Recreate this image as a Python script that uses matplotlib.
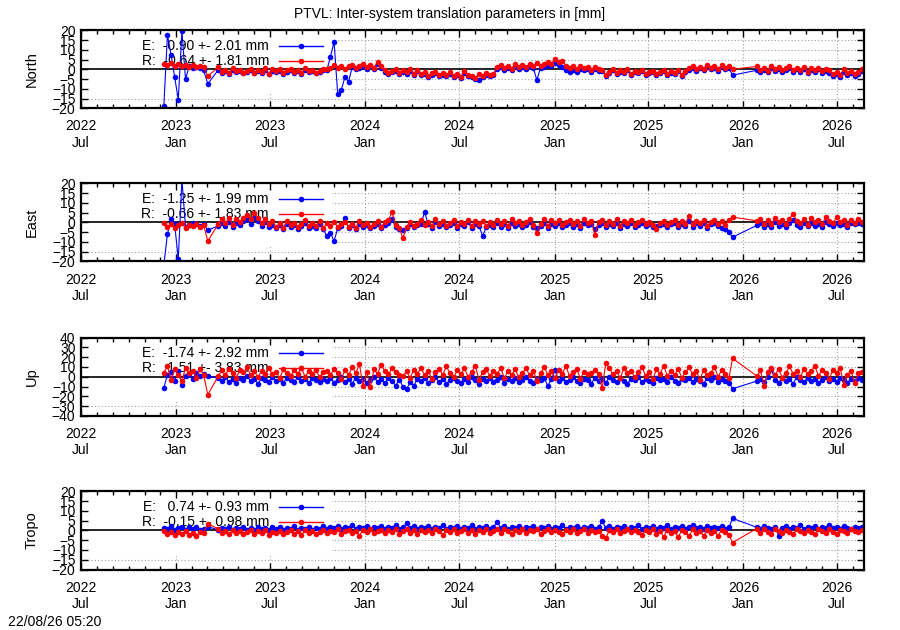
#!/usr/bin/env python3

import matplotlib

matplotlib.use("Agg")
import matplotlib.dates as mdates
import matplotlib.pyplot as plt
import numpy as np
import pandas as pd
from matplotlib.patches import Rectangle

plt.rcParams["font.family"] = ["Liberation Sans", "DejaVu Sans"]

TITLE = "PTVL: Inter-system translation parameters in [mm]"
STAMP = "22/08/26 05:20"

COMPONENTS = ["North", "East", "Up", "Tropo"]
Y_LIMITS = [20, 20, 40, 20]
Y_STEPS = [5, 5, 10, 5]
MEAN_E = [-0.90, -1.25, -1.74, 0.74]
STD_E = [2.01, 1.99, 2.92, 0.93]
MEAN_R = [-0.64, -0.66, 1.51, -0.15]
STD_R = [1.81, 1.83, 3.83, 0.98]

X_START = "2022-07-01"
X_END = "2026-08-22"
TICK_DATES = ["2022-07-01", "2023-01-01", "2023-07-01", "2024-01-01", "2024-07-01",
              "2025-01-01", "2025-07-01", "2026-01-01", "2026-07-01"]
TICK_LABELS = ["2022\nJul", "2023\nJan", "2023\nJul", "2024\nJan", "2024\nJul",
               "2025\nJan", "2025\nJul", "2026\nJan", "2026\nJul"]

# weekly samples, four stretches of data separated by gaps
SEGMENT_STARTS = ["2022-12-08", "2023-03-03", "2023-03-23", "2026-01-27"]

NORTH_E = [
    [-19.0, 17.5, 7.5, -4.0, -15.5, 19.5, -5.0, 1.5, 0.5, 1.0, 0.5, -0.5],
    [-7.5],
    [-0.4, -1.8, -1.0, -2.3, -0.5, -1.6, -0.9, -2.1, -1.3, -0.4,
     -2.0, -1.1, -1.7, -0.6, -2.4, -0.8, -1.5, -0.7, -2.2, -1.2,
     -0.5, -1.9, -1.0, -2.3, -0.3, -1.4, -0.8, -2.0, -1.2, -0.4,
     -0.6, 6.5, 14.0, -12.5, -10.5, -4.0, -6.5, 1.2, 0.1, 0.9,
     1.8, 0.4, 1.5, 0.0, 2.6, 0.9, -1.2, -2.6, -1.6, -0.8,
     -2.5, -1.3, -2.2, -0.7, -2.9, -1.0, -3.1, -2.2, -3.8, -2.7,
     -2.0, -3.6, -2.8, -3.5, -2.3, -3.8, -2.9, -4.2, -1.9, -3.3,
     -4.0, -4.8, -5.5, -4.1, -2.7, -3.6, -3.0, 0.3, 1.2, -0.2,
     0.9, -0.5, 1.5, 0.2, 1.3, 0.0, 1.7, 0.6, -5.5, 0.9,
     1.4, 2.3, 1.6, 3.0, 2.0, 1.2, -0.5, -1.4, -0.3, -1.6,
     0.3, -0.6, 0.1, -1.2, 0.0, -0.7, -1.1, -3.3, -1.9, -0.6,
     -2.5, -1.3, -2.1, -0.5, -2.7, -1.4, -2.0, -0.9, -3.0, -1.9,
     -1.3, -2.9, -2.0, -1.0, -2.8, -1.7, -2.5, -0.9, -3.2, -1.4,
     -0.2, 0.9, -0.9, 0.5, -0.5, 1.2, 0.1, 0.7, -0.8, 1.4,
     0.0, 0.6, -3.0],
    [-0.5, -1.2, -0.2, -1.6, 0.6, -0.9, 0.1, -1.4, -0.4, 0.5,
     -1.3, -0.1, -1.4, 0.2, -2.0, -0.6, -1.2, -0.1, -1.9, -0.8,
     -1.7, -3.2, -2.3, -3.9, -1.2, -2.8, -2.0, -3.5, -2.4, -0.8],
]
NORTH_R = [
    [2.8, 2.2, 3.0, 1.8, 2.6, 1.5, 2.4, 1.2, 2.0, 1.4, 1.8, 1.0],
    [-3.5],
    [1.0, -1.5, -0.5, -2.0, 0.6, -1.0, -0.2, -1.8, -0.7, 0.3,
     -1.7, -0.4, -1.3, 0.5, -2.2, -0.1, -1.1, 0.0, -1.9, -0.6,
     0.1, -1.5, -0.5, -2.0, 0.6, -1.0, -0.2, -1.8, -0.7, 0.3,
     0.2, 0.9, 2.0, 0.5, 1.8, 0.4, 1.6, 2.4, 0.8, 1.5,
     2.9, 1.3, 2.3, 0.8, 3.8, 1.8, -0.4, -2.0, -0.9, 0.1,
     -1.9, -0.6, -1.5, 0.3, -2.4, -0.3, -2.5, -1.4, -3.3, -2.0,
     -1.4, -3.1, -2.1, -3.0, -1.6, -3.2, -2.2, -3.7, -1.1, -2.7,
     -3.4, -4.2, -2.6, -3.6, -2.0, -3.1, -2.3, 1.3, 2.3, 0.8,
     1.9, 0.4, 2.6, 1.1, 2.4, 1.0, 2.8, 1.6, 3.1, 1.9,
     2.5, 3.7, 2.8, 5.5, 3.6, 4.2, 1.8, 0.5, 1.5, 0.0,
     1.9, 0.8, 1.3, -0.2, 1.1, 0.4, -0.3, -3.0, -1.2, 0.1,
     -1.9, -0.6, -1.5, 0.3, -2.2, -0.7, -1.4, -0.2, -2.6, -1.3,
     -0.7, -2.5, -1.4, -0.4, -2.4, -1.1, -2.0, -0.2, -2.9, -0.8,
     0.7, 1.8, -0.1, 1.4, 0.3, 2.1, 0.9, 1.6, -0.1, 2.3,
     0.8, 1.5, 0.0],
    [1.5, -0.2, 0.8, -0.7, 1.9, 0.3, 1.1, -0.5, 0.6, 1.6,
     -0.4, 0.9, -0.5, 1.3, -1.2, 0.7, -0.3, 0.8, -1.1, 0.2,
     -0.6, -2.2, -1.2, -2.7, -0.1, -1.7, -0.9, -2.5, -1.4, 0.0],
]

EAST_E = [
    [-22.0, -6.0, 1.5, -1.0, -19.0, 22.0, -2.5, -1.5, -0.5, -1.0, -2.0, -0.8],
    [-4.0],
    [-1.8, -0.5, -2.0, 0.3, -2.4, -0.2, -1.3, 0.8, 1.5, -0.7,
     2.0, 0.5, -1.9, 0.1, -2.3, -1.2, -3.0, -1.5, -3.4, -0.8,
     -2.6, -1.3, -3.2, -1.9, -0.4, -2.9, -1.6, -2.7, -0.9, -3.5,
     -7.0, -5.5, -9.5, -3.1, -1.9, 2.3, -2.9, -1.5, -3.4, -0.8,
     -2.3, -1.4, -3.1, -1.8, -0.6, -2.9, -1.2, -0.4, 1.5, -2.5,
     -3.2, -4.0, -3.0, -1.0, -2.6, -1.4, -0.6, 5.2, -1.0, -2.8,
     0.2, -1.9, -0.8, -2.5, -1.3, -0.2, -2.7, -0.9, -2.0, 0.1,
     -2.9, -0.8, -1.8, -7.0, -2.6, -1.1, -2.2, -0.5, -2.3, -1.0,
     -2.7, -0.2, -1.7, -0.6, -2.5, -1.2, 0.0, -2.4, -3.0, -1.9,
     -0.3, -2.8, -0.7, -1.8, -0.4, -2.6, -1.1, -0.2, -2.2, -1.0,
     -2.9, -0.4, -1.5, -0.8, -3.5, -1.3, -0.2, -2.4, -1.0, -1.9,
     -0.3, -2.8, -0.6, -1.6, -0.5, -2.5, -1.1, -0.1, -2.1, -0.9,
     -2.6, -2.0, -1.4, -0.6, -2.4, -1.0, -0.2, -2.3, -0.8, -1.8,
     0.8, -2.2, -0.5, -1.6, -0.1, -2.7, -1.0, -0.3, -2.0, -3.0,
     -3.5, -5.0, -7.6],
    [-1.5, -0.4, -2.2, -0.8, -2.5, 0.3, -1.6, -0.6, -2.3, -0.1,
     1.0, -1.2, -2.4, -0.5, -2.1, -0.3, -1.8, -0.7, -2.6, 0.2,
     -1.0, -2.0, -0.2, -1.5, -0.6, -2.2, -0.4, -1.0, -0.3, -0.8],
]
EAST_R = [
    [-0.5, -2.5, -1.0, -3.0, -1.5, -0.5, -2.8, -1.2, -2.0, -0.8, -2.5, -1.5],
    [-9.5],
    [-1.0, 1.5, -0.5, 2.0, -1.2, 1.8, 0.2, 2.5, 4.0, 1.5,
     4.8, 2.2, -0.3, 1.9, -1.0, 0.5, -2.2, -0.4, -2.8, 0.8,
     -1.5, -0.2, -2.6, -0.8, 1.2, -2.0, -0.5, -1.8, 0.9, -3.0,
     -0.3, -1.6, 0.4, -2.4, -0.9, 0.2, -2.2, -0.6, -2.9, 0.6,
     -1.4, -0.4, -2.5, -1.0, 0.5, -2.3, 0.0, 1.0, 5.5, -1.5,
     -3.0, -8.0, -2.5, 0.3, -1.8, -0.6, 1.0, -1.5, 0.2, -2.0,
     1.5, -0.8, 0.5, -1.6, -0.1, 1.2, -1.8, 0.3, -1.0, 1.4,
     -2.1, 0.6, -0.7, 0.9, -1.7, 0.1, -1.2, 1.2, -1.0, 0.5,
     -1.6, 1.6, -0.4, 0.8, -1.4, 0.2, 1.5, -1.2, -5.5, -0.8,
     1.7, -1.9, 1.0, -0.5, 1.1, -1.5, 0.4, 1.3, -1.0, 0.5,
     -1.8, 1.7, -0.2, 0.6, -6.5, 0.1, 1.4, -1.2, 0.5, -0.7,
     1.6, -1.7, 0.9, -0.4, 1.0, -1.4, 0.3, 1.2, -0.9, 0.4,
     -1.5, -3.2, -0.3, 0.7, -1.3, 0.2, 1.3, -1.1, 0.5, -0.6,
     3.5, -1.0, 0.8, -0.4, 1.2, -1.6, 0.2, 1.4, -0.8, 0.5,
     -1.2, 1.0, 2.7],
    [0.8, 1.8, -0.6, 1.2, -1.0, 2.2, 0.3, 1.0, -0.7, 1.9,
     4.5, 0.9, -0.4, 1.5, -1.1, 2.0, 0.1, 1.3, -0.9, 2.6,
     0.6, -0.5, 2.8, 0.2, 1.4, -1.2, 1.1, -0.3, 1.8, 0.4],
]

UP_E = [
    [-11.5, 2.0, 5.0, -4.0, 6.0, -8.0, 1.0, 3.0, -2.0, 4.0, 0.5, 2.5],
    [1.0],
    [-1.5, -4.0, -0.5, -5.5, -2.0, -6.5, -1.0, -3.5, 0.5, -4.5,
     -2.5, -7.0, -1.5, -3.0, -5.0, -0.5, -4.0, -2.0, -6.0, -1.0,
     -3.5, -5.5, 0.0, -4.0, -2.5, -6.5, -1.5, -3.0, -5.0, -2.0,
     -4.5, -1.0, -6.0, -3.0, -0.5, -5.0, -2.5, -7.0, -1.5, -4.0,
     -2.0, -6.0, -3.5, -0.5, -5.0, -2.5, -6.5, -1.5, -4.5, -9.0,
     -3.0, -10.0, -13.0, -5.5, -9.5, -2.0, -4.5, -1.0, -6.0, -3.0,
     -0.5, -5.5, -2.0, -7.0, -3.5, -1.0, -4.5, -6.5, -2.0, -5.0,
     -0.5, -3.5, -7.5, -2.5, -4.0, -1.0, -5.5, -3.0, -0.5, -6.0,
     -2.0, -4.5, -1.5, -5.5, -3.0, 0.0, -4.0, -6.5, -2.0, -3.5,
     -1.0, -9.5, -2.5, 7.0, -4.0, -1.5, -5.5, -3.0, -0.5, -4.5,
     -6.5, -2.0, -3.5, -7.0, -1.0, -4.0, -2.5, -6.0, -0.5, -3.5,
     -5.0, -1.5, -4.0, -7.0, -2.0, -3.0, -0.5, -5.5, -2.5, -4.5,
     -6.5, -1.0, -3.5, -2.0, -5.0, -0.5, -4.0, -6.0, -2.5, -3.0,
     -1.0, -5.5, -2.0, -4.5, -7.0, -1.5, -3.5, -0.5, -5.0, -2.5,
     -4.0, -6.0, -12.3],
    [-4.4, -2.0, -5.5, -0.5, 8.0, -3.5, -6.0, -1.5, -4.0, -2.5,
     -7.0, -0.5, -3.0, -5.5, -1.0, -4.5, -2.0, -6.5, -3.0, 0.0,
     -4.0, -2.5, -5.0, -1.5, -3.5, -6.0, -2.0, -4.5, -1.0, -3.0],
]
UP_R = [
    [4.0, 11.0, -3.0, 8.0, 2.0, -4.5, 9.0, 3.5, 6.0, -1.0, 7.5, 2.0],
    [-18.5],
    [0.5, 6.5, 2.0, 8.0, 3.5, -1.0, 7.0, 4.5, 9.5, 1.5,
     5.5, -0.5, 6.0, 3.0, 8.5, 2.5, 5.0, -1.5, 7.5, 4.0,
     1.0, 6.5, 3.0, 9.0, 0.0, 5.5, 2.5, 7.0, -0.5, 4.5,
     6.0, 1.5, 8.0, 3.5, -2.0, 6.5, 2.0, 9.5, 4.0, 13.0,
     -9.5, 5.0, -11.0, 7.5, 3.0, 12.0, 6.0, 2.5, 8.5, 4.5,
     1.5, 0.5, 5.5, -1.0, 7.0, 3.0, 9.0, 1.5, 6.0, -2.5,
     4.5, 8.0, 2.0, 10.5, 3.5, -0.5, 6.5, 2.5, 8.5, 0.0,
     5.0, 11.0, -3.0, 4.5, 7.5, 1.0, 6.0, 3.0, 9.0, -1.5,
     5.5, 2.0, 7.5, -0.5, 4.0, 8.5, 1.5, 6.0, -4.0, 3.5,
     10.0, 2.0, 5.5, -1.0, 7.0, 3.0, 11.0, 0.5, 4.5, 8.0,
     -2.0, 5.0, 2.5, 4.0, 7.0, 3.0, -12.0, 14.0, 8.5, 2.5,
     5.5, -1.5, 9.0, 3.5, 6.0, -0.5, 4.5, 10.0, 1.0, 5.0,
     -2.5, 7.5, 3.0, 11.5, 0.5, 6.0, 2.0, 8.0, -1.0, 4.5,
     9.5, 2.5, 5.5, -3.0, 7.0, 1.5, 4.0, 10.0, 0.0, 6.5,
     3.0, -1.5, 18.8],
    [0.7, 6.5, -9.5, 5.0, 9.0, 2.0, 7.5, -1.0, 4.0, 10.5,
     3.0, 6.0, -0.5, 8.0, 2.5, 5.5, 11.0, 1.0, 6.5, 3.5,
     -2.0, 7.0, 4.0, 9.0, -8.0, 2.0, 6.0, -6.5, 3.5, 5.0],
]

TROPO_E = [
    [1.5, 0.5, 2.2, 0.0, 1.2, 2.0, 0.3, 1.6, 0.8, 1.9, 0.2, 1.0],
    [2.0],
    [0.3, 1.5, 0.6, 1.8, 0.1, 1.2, 0.8, 2.0, 0.4, 1.4,
     0.0, 1.7, 0.7, 1.1, 0.2, 1.6, 0.5, 1.9, 0.3, 1.3,
     0.9, 2.1, 0.4, 1.5, 0.6, 1.8, 0.2, 1.2, 1.0, 2.2,
     0.8, 1.9, 1.1, 2.4, 0.7, 1.6, 1.2, 2.6, 0.9, 1.8,
     1.3, 2.5, 0.8, 1.7, 1.1, 2.3, 1.0, 1.9, 1.4, 2.7,
     0.9, 1.6, 3.6, 1.2, 2.1, 0.8, 1.7, 1.1, 2.4, 0.9,
     1.8, 1.3, 2.8, 0.7, 1.6, 1.2, 2.3, 0.9, 1.9, 1.4,
     2.6, 0.8, 1.7, 1.2, 2.2, 1.0, 1.8, 4.3, 1.3, 2.1,
     0.9, 1.7, 1.2, 2.5, 1.0, 1.9, 1.4, 2.3, 0.8, 1.6,
     1.1, 2.4, 1.0, 1.8, 1.3, 2.6, 0.9, 1.7, 1.2, 2.2,
     0.8, 1.9, 1.4, 2.5, 1.0, 1.6, 4.8, 1.3, 2.2, 0.9,
     1.8, 1.2, 2.4, 1.0, 1.7, 1.4, 2.6, 0.8, 1.9, 1.3,
     2.1, 1.0, 1.8, 1.4, 2.7, 0.9, 1.6, 1.2, 2.3, 1.0,
     1.9, 2.9, 1.3, 1.7, 1.0, 2.5, 1.2, 1.8, 1.4, 2.2,
     0.9, 1.6, 6.2],
    [1.6, 1.0, 2.3, 1.4, 0.8, 2.0, -2.8, 1.2, 2.5, 0.9,
     1.7, 1.3, 2.6, 1.0, 1.8, 1.4, 2.2, 0.8, 1.9, 1.2,
     2.7, 1.1, 1.6, 1.0, 2.3, 1.5, 0.9, 2.0, 1.3, 1.7],
]
TROPO_R = [
    [-0.5, -2.0, -1.0, -2.5, -0.8, -1.8, -0.3, -2.2, -1.2, -2.6, -0.7, -1.5],
    [3.5],
    [0.8, -1.5, -0.2, -1.9, 0.3, -1.2, -0.5, -2.0, -0.8, 0.2,
     -1.7, -0.4, -1.4, 0.1, -2.1, -0.6, -1.3, -0.1, -1.8, -0.7,
     0.2, -1.6, -0.5, -2.2, 0.0, -1.1, -0.3, -1.9, -0.8, 0.3,
     -1.4, -0.2, -1.0, 0.5, -1.7, -0.4, 0.3, -1.3, -0.1, -2.6,
     0.2, -0.9, 0.6, -1.5, -0.3, 0.4, -1.2, 0.1, -0.7, 0.7,
     -1.6, -0.2, 0.5, -1.1, 0.0, -1.9, 0.4, -0.8, 0.2, -1.4,
     0.6, -0.5, -2.5, 0.1, -1.0, 0.5, -1.5, -0.2, 0.7, -1.2,
     0.0, -2.0, 0.3, -0.7, 0.6, -1.3, -0.1, 0.5, -1.1, 0.9,
     -0.4, -1.6, 0.3, -0.8, 0.7, -1.3, 0.1, -0.5, 1.0, -1.8,
     -0.2, 0.6, -1.0, 0.4, -0.7, -2.0, 0.2, -0.9, 0.5, -1.4,
     -0.3, 0.6, -1.1, 0.4, -0.6, -0.2, -2.8, -4.0, 0.1, -0.8,
     0.7, -1.5, -0.2, 0.5, -1.0, 0.2, -0.7, -2.2, 0.3, -0.9,
     0.6, -1.6, -0.4, -3.2, 0.4, -1.1, -0.3, -3.5, 0.1, -0.8,
     -2.9, 0.5, -1.2, -0.2, -3.0, 0.3, -1.4, -0.5, -2.6, 0.2,
     -1.0, -2.4, -6.2],
    [1.0, -1.2, 0.5, -0.6, -1.8, 0.8, -0.3, -1.5, 0.4, -0.9,
     -2.0, 0.6, -0.4, -1.3, 0.2, -0.7, -1.9, 0.7, -0.2, -1.1,
     0.5, -0.8, -1.6, 0.3, -0.5, -1.4, 0.6, -0.1, -1.0, 0.2],
]

SERIES_E = [NORTH_E, EAST_E, UP_E, TROPO_E]
SERIES_R = [NORTH_R, EAST_R, UP_R, TROPO_R]

BLUE = "#0000ff"
RED = "#ff0000"
GRID_COLOR = "#a0a0a0"
AXES_BOTTOMS = [0.828, 0.585, 0.340, 0.096]


def flatten(series):
    dates = []
    values = []
    for start, part in zip(SEGMENT_STARTS, series):
        dates.extend(pd.date_range(start, periods=len(part), freq="7D"))
        values.extend(part)
    return mdates.date2num(pd.DatetimeIndex(dates).to_pydatetime()), np.array(values)


def draw_panel(ax, k):
    limit = Y_LIMITS[k]
    yticks = np.arange(-limit, limit + 1, Y_STEPS[k])
    tick_x = mdates.date2num(pd.DatetimeIndex(TICK_DATES).to_pydatetime())

    # dotted grid, then the opaque key area above it
    for x in tick_x[1:]:
        ax.axvline(x, color=GRID_COLOR, lw=0.8, ls=(0, (1, 2)), zorder=0.5)
    for y in yticks[1:-1]:
        if y != 0:
            ax.axhline(y, color=GRID_COLOR, lw=0.8, ls=(0, (1, 2)), zorder=0.5)
    ax.add_patch(Rectangle((0, 0.19), 0.32, 0.81, transform=ax.transAxes,
                           facecolor="white", edgecolor="none", zorder=1))
    ax.axhline(0, color="black", lw=1.2, zorder=2)

    key_rows = [
        (0.80, f"E: {MEAN_E[k]:6.2f} +- {STD_E[k]:.2f} mm", BLUE),
        (0.61, f"R: {MEAN_R[k]:6.2f} +- {STD_R[k]:.2f} mm", RED),
    ]
    for y, label, color in key_rows:
        ax.text(0.240, y, label, transform=ax.transAxes, ha="right", va="center",
                fontsize=10, zorder=2)
        ax.plot([0.253, 0.309], [y, y], color=color, lw=1.0,
                transform=ax.transAxes, zorder=4)
        ax.plot([0.281], [y], "o", color=color, ms=3,
                transform=ax.transAxes, zorder=4)

    for series, color in ((SERIES_E[k], BLUE), (SERIES_R[k], RED)):
        x, v = flatten(series)
        ax.plot(x, v, color=color, lw=0.8, marker="o", ms=4.0,
                markeredgewidth=0, zorder=3)

    ax.set_xlim(mdates.datestr2num(X_START), mdates.datestr2num(X_END))
    ax.set_ylim(-limit, limit)
    ax.set_xticks(tick_x, TICK_LABELS)
    ax.xaxis.set_minor_locator(mdates.MonthLocator())
    ax.set_yticks(yticks)
    ax.tick_params(which="both", direction="in", top=True, right=True,
                   labelsize=10, width=1)
    ax.tick_params(which="major", length=5)
    ax.tick_params(which="minor", length=3)
    ax.tick_params(axis="x", pad=8)
    ax.tick_params(axis="y", pad=4)
    for spine in ax.spines.values():
        spine.set_linewidth(1.6)
        spine.set_zorder(5)
    ax.text(-0.0626, 0.5, COMPONENTS[k], transform=ax.transAxes, rotation=90,
            ha="center", va="center", fontsize=10.5)


def main():
    fig = plt.figure(figsize=(9, 6.3), dpi=100, facecolor="white")
    for k in range(len(COMPONENTS)):
        ax = fig.add_axes((0.09, AXES_BOTTOMS[k], 0.87, 0.124))
        draw_panel(ax, k)
    fig.text(0.5, 1 - 14 / 630, TITLE, ha="center", va="center", fontsize=10)
    fig.text(8 / 900, 1 - 622 / 630, STAMP, ha="left", va="center", fontsize=10)
    fig.savefig("out.png", dpi=100, facecolor="white")
    plt.close(fig)


if __name__ == "__main__":
    main()
